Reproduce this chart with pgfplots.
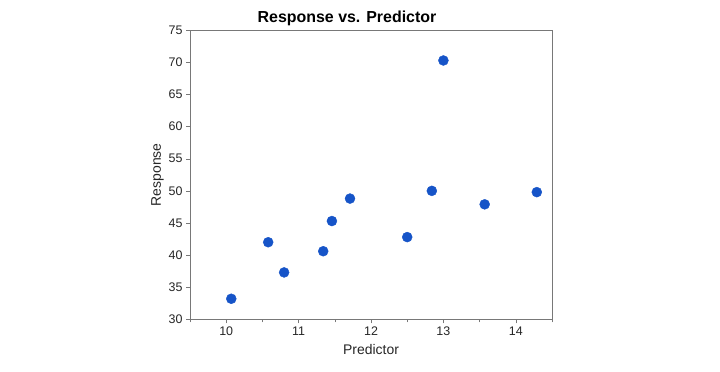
\documentclass[border=0pt]{standalone}
\usepackage{pgfplots}
\pgfplotsset{compat=1.18}
\usepackage{fontspec}
\setmainfont{Liberation Sans}
\definecolor{dotblue}{RGB}{22,84,200}
\definecolor{axgray}{RGB}{120,120,120}
\begin{document}
\begin{tikzpicture}[x=1bp,y=1bp]
\useasboundingbox[fill=white] (0,0) rectangle (720,371);
\begin{axis}[
  at={(190bp,51.7bp)}, anchor=south west,
  scale only axis, width=362bp, height=289bp,
  xmin=9.5, xmax=14.5, ymin=30, ymax=75,
  xtick={10,11,12,13,14}, ytick={30,35,...,75},
  minor xtick={9.5,10.5,11.5,12.5,13.5,14.5},
  tick align=outside, tick pos=left,
  major tick length=4bp, minor tick length=3bp,
  axis line style={axgray},
  every tick/.style={axgray},
  /pgf/number format/assume math mode=true,
  tick label style={font=\fontsize{12.5}{14}\selectfont, text=black!85},
  xlabel={Predictor}, ylabel={Response},
  label style={font=\fontsize{14}{16}\selectfont, text=black!85},
  xlabel style={yshift=-2bp},
  ylabel style={yshift=-2bp},
  title={\textbf{Response vs. Predictor}},
  title style={font=\fontsize{16}{18}\selectfont, xshift=-24bp, yshift=-5bp},
]
\addplot[only marks, mark=*, mark size=5bp, color=dotblue] coordinates {
(10.07,33.2) (10.58,42.0) (10.80,37.3) (11.34,40.6) (11.46,45.3)
(11.71,48.8) (12.50,42.8) (12.84,50.0) (13.00,70.3) (13.57,47.9) (14.29,49.8)
};
\end{axis}
\end{tikzpicture}
\end{document}
